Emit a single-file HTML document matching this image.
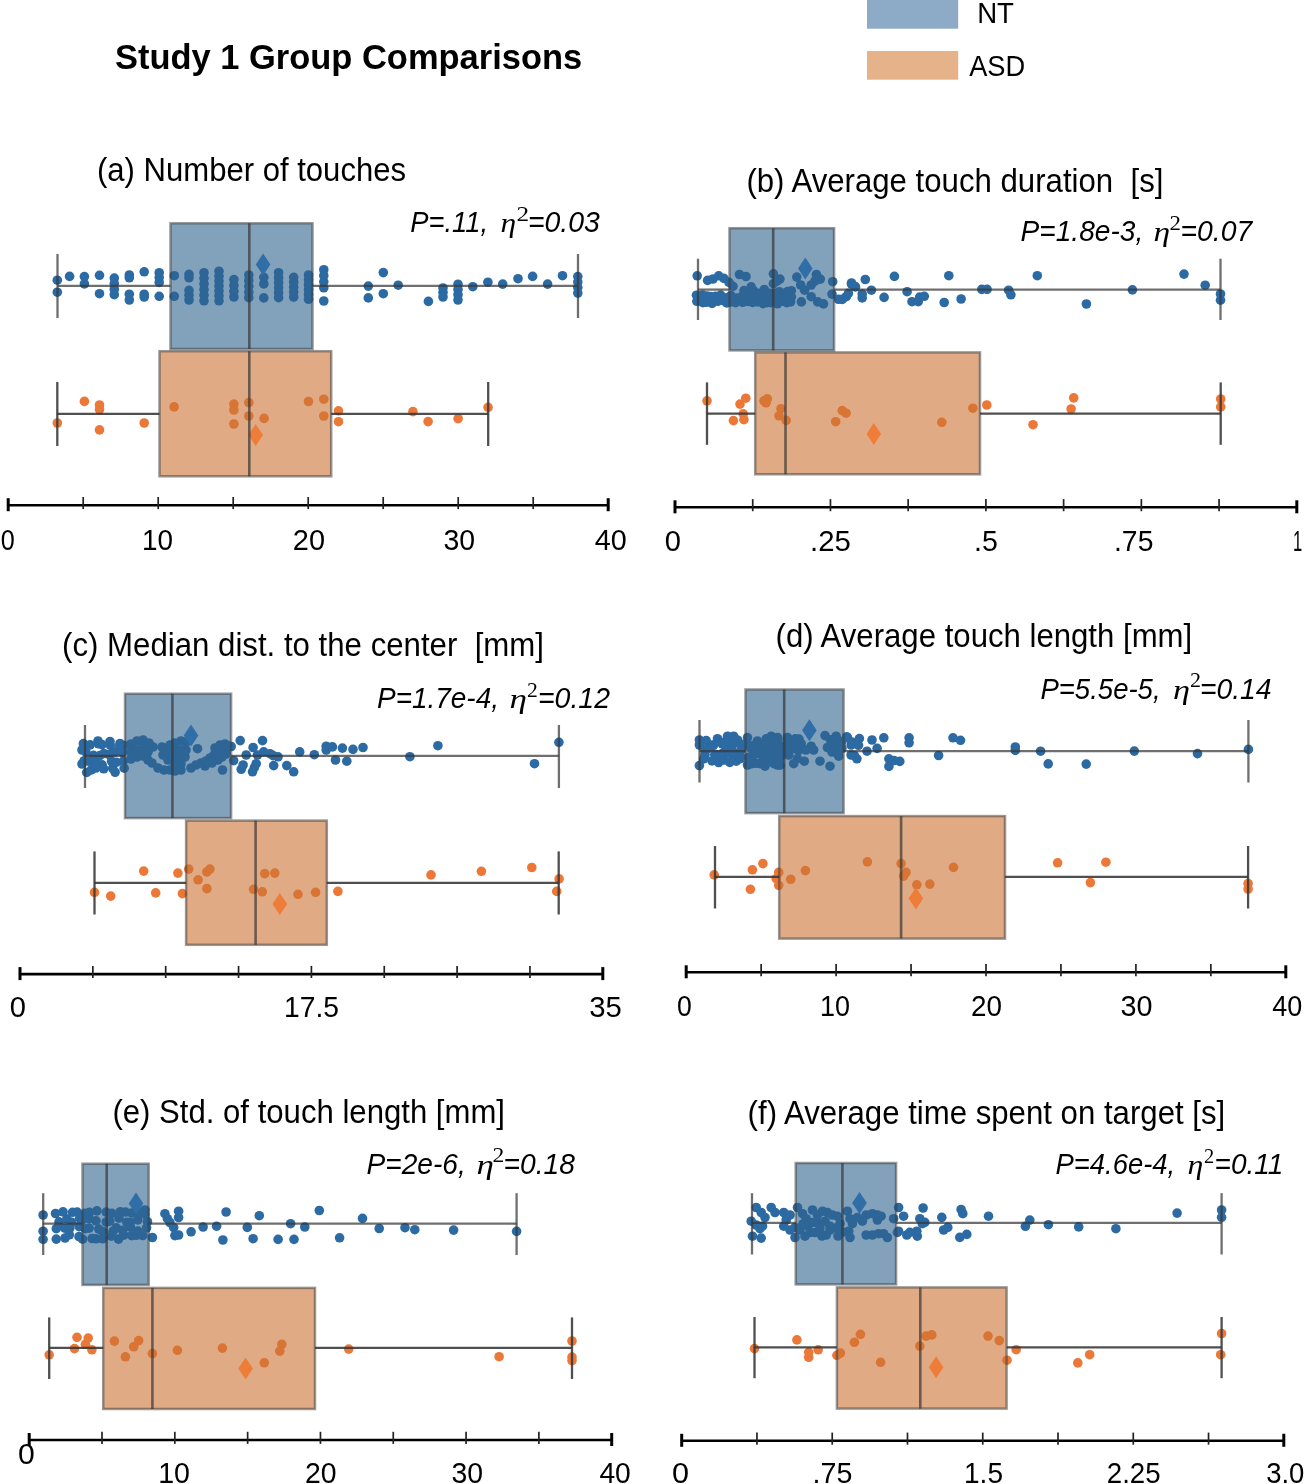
<!DOCTYPE html>
<html><head><meta charset="utf-8"><style>
html,body{margin:0;padding:0;background:#fff;}
body{width:1305px;height:1484px;overflow:hidden;}
svg{display:block;filter:blur(0.5px);}
</style></head><body>
<svg width="1305" height="1484" viewBox="0 0 1305 1484">
<rect width="1305" height="1484" fill="#fff"/>
<rect x="867" y="0" width="91.2" height="28.7" fill="rgb(141,170,198)"/>
<rect x="867" y="51" width="91.2" height="28.7" fill="rgb(229,178,138)"/>
<g fill="rgb(44,106,163)">
<circle cx="57.3" cy="280.2" r="4.8"/>
<circle cx="57.3" cy="292.2" r="4.8"/>
<circle cx="69.6" cy="276.4" r="4.8"/>
<circle cx="84.4" cy="276.6" r="4.8"/>
<circle cx="84.4" cy="283.9" r="4.8"/>
<circle cx="99.5" cy="275.3" r="4.8"/>
<circle cx="99.5" cy="293.7" r="4.8"/>
<circle cx="114.3" cy="278.1" r="4.8"/>
<circle cx="114.3" cy="283.63" r="4.8"/>
<circle cx="114.3" cy="289.17" r="4.8"/>
<circle cx="114.3" cy="294.7" r="4.8"/>
<circle cx="129.3" cy="275" r="4.8"/>
<circle cx="129.3" cy="277.8" r="4.8"/>
<circle cx="129.3" cy="294.2" r="4.8"/>
<circle cx="129.3" cy="300" r="4.8"/>
<circle cx="144.2" cy="271.8" r="4.8"/>
<circle cx="144.2" cy="294.2" r="4.8"/>
<circle cx="144.2" cy="297" r="4.8"/>
<circle cx="159.2" cy="272.7" r="4.8"/>
<circle cx="159.2" cy="277.55" r="4.8"/>
<circle cx="159.2" cy="282.4" r="4.8"/>
<circle cx="159.2" cy="296.3" r="4.8"/>
<circle cx="174.3" cy="275.7" r="4.8"/>
<circle cx="174.3" cy="296.3" r="4.8"/>
<circle cx="189" cy="274.3" r="4.8"/>
<circle cx="189" cy="277.8" r="4.8"/>
<circle cx="189" cy="290.4" r="4.8"/>
<circle cx="189" cy="295.2" r="4.8"/>
<circle cx="189" cy="300" r="4.8"/>
<circle cx="204" cy="272.7" r="4.8"/>
<circle cx="204" cy="278.32" r="4.8"/>
<circle cx="204" cy="283.94" r="4.8"/>
<circle cx="204" cy="289.56" r="4.8"/>
<circle cx="204" cy="295.18" r="4.8"/>
<circle cx="204" cy="300.8" r="4.8"/>
<circle cx="219" cy="271.2" r="4.8"/>
<circle cx="219" cy="276.13" r="4.8"/>
<circle cx="219" cy="281.07" r="4.8"/>
<circle cx="219" cy="286" r="4.8"/>
<circle cx="219" cy="290.93" r="4.8"/>
<circle cx="219" cy="295.87" r="4.8"/>
<circle cx="219" cy="300.8" r="4.8"/>
<circle cx="233.9" cy="279.6" r="4.8"/>
<circle cx="233.9" cy="285.4" r="4.8"/>
<circle cx="233.9" cy="291.2" r="4.8"/>
<circle cx="233.9" cy="297" r="4.8"/>
<circle cx="248.8" cy="275" r="4.8"/>
<circle cx="248.8" cy="280.68" r="4.8"/>
<circle cx="248.8" cy="286.35" r="4.8"/>
<circle cx="248.8" cy="292.02" r="4.8"/>
<circle cx="248.8" cy="297.7" r="4.8"/>
<circle cx="263.8" cy="277.3" r="4.8"/>
<circle cx="263.8" cy="283.9" r="4.8"/>
<circle cx="263.8" cy="297.9" r="4.8"/>
<circle cx="278.6" cy="272.7" r="4.8"/>
<circle cx="278.6" cy="277.7" r="4.8"/>
<circle cx="278.6" cy="282.7" r="4.8"/>
<circle cx="278.6" cy="287.7" r="4.8"/>
<circle cx="278.6" cy="292.7" r="4.8"/>
<circle cx="278.6" cy="297.7" r="4.8"/>
<circle cx="293.7" cy="277.3" r="4.8"/>
<circle cx="293.7" cy="282.23" r="4.8"/>
<circle cx="293.7" cy="287.15" r="4.8"/>
<circle cx="293.7" cy="292.07" r="4.8"/>
<circle cx="293.7" cy="297" r="4.8"/>
<circle cx="308.5" cy="275" r="4.8"/>
<circle cx="308.5" cy="279.86" r="4.8"/>
<circle cx="308.5" cy="284.72" r="4.8"/>
<circle cx="308.5" cy="289.58" r="4.8"/>
<circle cx="308.5" cy="294.44" r="4.8"/>
<circle cx="308.5" cy="299.3" r="4.8"/>
<circle cx="323.8" cy="269.7" r="4.8"/>
<circle cx="323.8" cy="275.73" r="4.8"/>
<circle cx="323.8" cy="281.77" r="4.8"/>
<circle cx="323.8" cy="287.8" r="4.8"/>
<circle cx="323.8" cy="301" r="4.8"/>
<circle cx="368.3" cy="286.1" r="4.8"/>
<circle cx="368.3" cy="297.9" r="4.8"/>
<circle cx="383.3" cy="272.6" r="4.8"/>
<circle cx="383.3" cy="293.7" r="4.8"/>
<circle cx="398.2" cy="285.2" r="4.8"/>
<circle cx="428.4" cy="301.4" r="4.8"/>
<circle cx="443" cy="288" r="4.8"/>
<circle cx="443" cy="292.5" r="4.8"/>
<circle cx="443" cy="297" r="4.8"/>
<circle cx="458" cy="284.2" r="4.8"/>
<circle cx="458" cy="289.47" r="4.8"/>
<circle cx="458" cy="294.73" r="4.8"/>
<circle cx="458" cy="300" r="4.8"/>
<circle cx="472.8" cy="286.7" r="4.8"/>
<circle cx="487.9" cy="282.2" r="4.8"/>
<circle cx="502.7" cy="284.1" r="4.8"/>
<circle cx="518" cy="278.7" r="4.8"/>
<circle cx="532.6" cy="276.4" r="4.8"/>
<circle cx="547.6" cy="284.1" r="4.8"/>
<circle cx="562.5" cy="275.7" r="4.8"/>
<circle cx="577.8" cy="276.6" r="4.8"/>
<circle cx="577.8" cy="282.1" r="4.8"/>
<circle cx="577.8" cy="287.6" r="4.8"/>
<circle cx="577.8" cy="293.1" r="4.8"/>
</g>
<g fill="rgb(236,120,56)">
<circle cx="57.3" cy="423" r="4.8"/>
<circle cx="84.4" cy="401.4" r="4.8"/>
<circle cx="99.5" cy="405" r="4.8"/>
<circle cx="99.5" cy="409.5" r="4.8"/>
<circle cx="99.5" cy="429.9" r="4.8"/>
<circle cx="144.2" cy="423" r="4.8"/>
<circle cx="174.1" cy="406.9" r="4.8"/>
<circle cx="233.9" cy="404.1" r="4.8"/>
<circle cx="233.9" cy="410" r="4.8"/>
<circle cx="233.9" cy="424" r="4.8"/>
<circle cx="248.8" cy="402.6" r="4.8"/>
<circle cx="248.8" cy="416" r="4.8"/>
<circle cx="264.1" cy="418.4" r="4.8"/>
<circle cx="308.5" cy="401.5" r="4.8"/>
<circle cx="323.8" cy="399.2" r="4.8"/>
<circle cx="323.8" cy="416" r="4.8"/>
<circle cx="338.5" cy="410.8" r="4.8"/>
<circle cx="338.5" cy="421.7" r="4.8"/>
<circle cx="412.9" cy="411.6" r="4.8"/>
<circle cx="428.1" cy="421.6" r="4.8"/>
<circle cx="458.1" cy="418.6" r="4.8"/>
<circle cx="488.1" cy="407.3" r="4.8"/>
</g>
<rect x="170.5" y="223.3" width="142" height="125.7" fill="rgb(47,98,142)" fill-opacity="0.6"/>
<rect x="159.5" y="351.2" width="171.7" height="125.1" fill="rgb(203,113,50)" fill-opacity="0.6"/>
<rect x="170.5" y="223.3" width="142" height="125.7" fill="none" stroke="rgb(60,60,60)" stroke-opacity="0.52" stroke-width="2.5"/>
<rect x="159.5" y="351.2" width="171.7" height="125.1" fill="none" stroke="rgb(60,60,60)" stroke-opacity="0.52" stroke-width="2.5"/>
<path d="M263.1 253.6L270.4 264.6L263.1 275.6L255.8 264.6Z" fill="rgb(48,110,168)"/>
<path d="M255.7 424L263 435L255.7 446L248.4 435Z" fill="rgb(238,125,58)"/>
<line x1="249.3" y1="223.3" x2="249.3" y2="349" stroke="rgb(55,55,55)" stroke-opacity="0.7" stroke-width="2.6"/>
<line x1="249.3" y1="351.2" x2="249.3" y2="476.3" stroke="rgb(55,55,55)" stroke-opacity="0.7" stroke-width="2.6"/>
<g stroke="rgb(55,55,55)" stroke-opacity="0.72" stroke-width="2.3">
<line x1="57.5" y1="285.8" x2="170.5" y2="285.8"/>
<line x1="312.5" y1="285.8" x2="578" y2="285.8"/>
<line x1="57.5" y1="254" x2="57.5" y2="318"/>
<line x1="578" y1="254" x2="578" y2="318"/>
</g>
<g stroke="rgb(55,55,55)" stroke-opacity="0.88" stroke-width="2.3">
<line x1="57.3" y1="413.9" x2="159.5" y2="413.9"/>
<line x1="331.2" y1="413.9" x2="488.2" y2="413.9"/>
<line x1="57.3" y1="382" x2="57.3" y2="446"/>
<line x1="488.2" y1="382" x2="488.2" y2="446"/>
</g>
<line x1="8.2" y1="505.2" x2="608.2" y2="505.2" stroke="#000" stroke-width="2.6"/>
<line x1="83.2" y1="497" x2="83.2" y2="509.1" stroke="#222" stroke-width="1.7"/>
<line x1="158.2" y1="497" x2="158.2" y2="509.1" stroke="#222" stroke-width="1.7"/>
<line x1="233.2" y1="497" x2="233.2" y2="509.1" stroke="#222" stroke-width="1.7"/>
<line x1="308.2" y1="497" x2="308.2" y2="509.1" stroke="#222" stroke-width="1.7"/>
<line x1="383.2" y1="497" x2="383.2" y2="509.1" stroke="#222" stroke-width="1.7"/>
<line x1="458.2" y1="497" x2="458.2" y2="509.1" stroke="#222" stroke-width="1.7"/>
<line x1="533.2" y1="497" x2="533.2" y2="509.1" stroke="#222" stroke-width="1.7"/>
<line x1="8.2" y1="498.2" x2="8.2" y2="511.2" stroke="#000" stroke-width="3"/>
<line x1="608.2" y1="498.2" x2="608.2" y2="511.2" stroke="#000" stroke-width="3"/>
<g fill="rgb(44,106,163)">
<circle cx="697.2" cy="275.8" r="4.8"/>
<circle cx="707.6" cy="280.4" r="4.8"/>
<circle cx="718.7" cy="275.8" r="4.8"/>
<circle cx="723.9" cy="278.4" r="4.8"/>
<circle cx="729" cy="282.4" r="4.8"/>
<circle cx="733" cy="286.3" r="4.8"/>
<circle cx="713" cy="279" r="4.8"/>
<circle cx="739.5" cy="274.5" r="4.8"/>
<circle cx="746" cy="276.5" r="4.8"/>
<circle cx="751.2" cy="286.9" r="4.8"/>
<circle cx="764.3" cy="289.5" r="4.8"/>
<circle cx="773.4" cy="273.9" r="4.8"/>
<circle cx="779.9" cy="279.1" r="4.8"/>
<circle cx="773.4" cy="283.7" r="4.8"/>
<circle cx="777" cy="281" r="4.8"/>
<circle cx="787.7" cy="291.5" r="4.8"/>
<circle cx="796.8" cy="277.1" r="4.8"/>
<circle cx="800.7" cy="285" r="4.8"/>
<circle cx="804.6" cy="290.2" r="4.8"/>
<circle cx="811.2" cy="285" r="4.8"/>
<circle cx="816.4" cy="274.5" r="4.8"/>
<circle cx="820.3" cy="279.1" r="4.8"/>
<circle cx="815" cy="281" r="4.8"/>
<circle cx="801.4" cy="301.9" r="4.8"/>
<circle cx="811.2" cy="296.7" r="4.8"/>
<circle cx="817.7" cy="301.9" r="4.8"/>
<circle cx="823.5" cy="303.9" r="4.8"/>
<circle cx="832.7" cy="281.7" r="4.8"/>
<circle cx="832" cy="294.1" r="4.8"/>
<circle cx="838.5" cy="299.3" r="4.8"/>
<circle cx="846.3" cy="296.7" r="4.8"/>
<circle cx="851.5" cy="283" r="4.8"/>
<circle cx="855.5" cy="286.9" r="4.8"/>
<circle cx="696.47" cy="295.24" r="4.8"/>
<circle cx="702.45" cy="294.96" r="4.8"/>
<circle cx="707.11" cy="296.02" r="4.8"/>
<circle cx="710.67" cy="296.53" r="4.8"/>
<circle cx="715.61" cy="296.26" r="4.8"/>
<circle cx="720.71" cy="295.03" r="4.8"/>
<circle cx="726.77" cy="297.68" r="4.8"/>
<circle cx="730.87" cy="295.5" r="4.8"/>
<circle cx="737.38" cy="298.11" r="4.8"/>
<circle cx="742.23" cy="296.13" r="4.8"/>
<circle cx="748.43" cy="294.87" r="4.8"/>
<circle cx="753.08" cy="295.74" r="4.8"/>
<circle cx="755.93" cy="295.12" r="4.8"/>
<circle cx="761.43" cy="297.64" r="4.8"/>
<circle cx="766.04" cy="296.79" r="4.8"/>
<circle cx="772.42" cy="296.04" r="4.8"/>
<circle cx="777.14" cy="294.93" r="4.8"/>
<circle cx="780.68" cy="295.44" r="4.8"/>
<circle cx="787.54" cy="296.24" r="4.8"/>
<circle cx="791.44" cy="296.81" r="4.8"/>
<circle cx="696.86" cy="301.28" r="4.8"/>
<circle cx="702.88" cy="302.72" r="4.8"/>
<circle cx="706.23" cy="302.27" r="4.8"/>
<circle cx="712.08" cy="303.35" r="4.8"/>
<circle cx="717.69" cy="301.24" r="4.8"/>
<circle cx="723.44" cy="300.63" r="4.8"/>
<circle cx="726.75" cy="302.93" r="4.8"/>
<circle cx="730.96" cy="301.96" r="4.8"/>
<circle cx="735.62" cy="302.61" r="4.8"/>
<circle cx="742.79" cy="302.26" r="4.8"/>
<circle cx="748.13" cy="301.33" r="4.8"/>
<circle cx="752.59" cy="302.34" r="4.8"/>
<circle cx="757.24" cy="301.84" r="4.8"/>
<circle cx="763.02" cy="303.6" r="4.8"/>
<circle cx="766.92" cy="302.59" r="4.8"/>
<circle cx="770.68" cy="302.73" r="4.8"/>
<circle cx="777.44" cy="303.78" r="4.8"/>
<circle cx="782.97" cy="301.22" r="4.8"/>
<circle cx="786.66" cy="302.61" r="4.8"/>
<circle cx="790.57" cy="301.86" r="4.8"/>
<circle cx="744" cy="290.62" r="4.8"/>
<circle cx="748.68" cy="292.97" r="4.8"/>
<circle cx="753.89" cy="291.09" r="4.8"/>
<circle cx="759.67" cy="293.34" r="4.8"/>
<circle cx="763.74" cy="291.82" r="4.8"/>
<circle cx="770.15" cy="293.38" r="4.8"/>
<circle cx="775.96" cy="293.31" r="4.8"/>
<circle cx="779.34" cy="291.7" r="4.8"/>
<circle cx="784.58" cy="293.38" r="4.8"/>
<circle cx="791.37" cy="290.74" r="4.8"/>
<circle cx="842.3" cy="299.4" r="4.8"/>
<circle cx="848.4" cy="293.3" r="4.8"/>
<circle cx="851.5" cy="284.1" r="4.8"/>
<circle cx="854.6" cy="286.4" r="4.8"/>
<circle cx="862.2" cy="294" r="4.8"/>
<circle cx="862.2" cy="297.9" r="4.8"/>
<circle cx="865.3" cy="279.5" r="4.8"/>
<circle cx="871.4" cy="290.2" r="4.8"/>
<circle cx="884.1" cy="297.4" r="4.8"/>
<circle cx="894.4" cy="276.4" r="4.8"/>
<circle cx="907.1" cy="291.7" r="4.8"/>
<circle cx="912" cy="301.7" r="4.8"/>
<circle cx="918.2" cy="301.7" r="4.8"/>
<circle cx="919.7" cy="297.1" r="4.8"/>
<circle cx="924.3" cy="296.3" r="4.8"/>
<circle cx="944.2" cy="302.5" r="4.8"/>
<circle cx="948.8" cy="275.7" r="4.8"/>
<circle cx="961.1" cy="299" r="4.8"/>
<circle cx="981.8" cy="289.4" r="4.8"/>
<circle cx="987.1" cy="289.4" r="4.8"/>
<circle cx="1008.6" cy="290.2" r="4.8"/>
<circle cx="1010.9" cy="294.8" r="4.8"/>
<circle cx="1037.3" cy="275.7" r="4.8"/>
<circle cx="1086.4" cy="304" r="4.8"/>
<circle cx="1132.4" cy="289.9" r="4.8"/>
<circle cx="1184" cy="274.1" r="4.8"/>
<circle cx="1205.2" cy="285.2" r="4.8"/>
<circle cx="1220.5" cy="294" r="4.8"/>
<circle cx="1220.5" cy="300.2" r="4.8"/>
</g>
<g fill="rgb(236,120,56)">
<circle cx="707" cy="400.8" r="4.8"/>
<circle cx="740" cy="404.1" r="4.8"/>
<circle cx="745.8" cy="398.2" r="4.8"/>
<circle cx="743.2" cy="413.9" r="4.8"/>
<circle cx="743.9" cy="419.7" r="4.8"/>
<circle cx="733.4" cy="420.6" r="4.8"/>
<circle cx="764" cy="400.8" r="4.8"/>
<circle cx="767.3" cy="398.9" r="4.8"/>
<circle cx="766" cy="402.8" r="4.8"/>
<circle cx="781" cy="408.7" r="4.8"/>
<circle cx="779" cy="415.8" r="4.8"/>
<circle cx="786.2" cy="420.4" r="4.8"/>
<circle cx="842.2" cy="410.6" r="4.8"/>
<circle cx="846.1" cy="413.2" r="4.8"/>
<circle cx="835.7" cy="421.7" r="4.8"/>
<circle cx="941.8" cy="422.3" r="4.8"/>
<circle cx="972.9" cy="408.2" r="4.8"/>
<circle cx="986.8" cy="405" r="4.8"/>
<circle cx="1033" cy="424.7" r="4.8"/>
<circle cx="1073.7" cy="397.9" r="4.8"/>
<circle cx="1071.1" cy="409" r="4.8"/>
<circle cx="1220.7" cy="399" r="4.8"/>
<circle cx="1220.7" cy="406.9" r="4.8"/>
</g>
<rect x="729.5" y="228.2" width="104.6" height="122.2" fill="rgb(47,98,142)" fill-opacity="0.6"/>
<rect x="755.2" y="352.4" width="224.8" height="121.9" fill="rgb(203,113,50)" fill-opacity="0.6"/>
<rect x="729.5" y="228.2" width="104.6" height="122.2" fill="none" stroke="rgb(60,60,60)" stroke-opacity="0.52" stroke-width="2.5"/>
<rect x="755.2" y="352.4" width="224.8" height="121.9" fill="none" stroke="rgb(60,60,60)" stroke-opacity="0.52" stroke-width="2.5"/>
<path d="M805.3 257.6L812.6 268.6L805.3 279.6L798 268.6Z" fill="rgb(48,110,168)"/>
<path d="M873.8 423L881.1 434L873.8 445L866.5 434Z" fill="rgb(238,125,58)"/>
<line x1="773.2" y1="228.2" x2="773.2" y2="350.4" stroke="rgb(55,55,55)" stroke-opacity="0.7" stroke-width="2.6"/>
<line x1="785.5" y1="352.4" x2="785.5" y2="474.3" stroke="rgb(55,55,55)" stroke-opacity="0.7" stroke-width="2.6"/>
<g stroke="rgb(55,55,55)" stroke-opacity="0.72" stroke-width="2.3">
<line x1="698" y1="289.6" x2="729.5" y2="289.6"/>
<line x1="834.1" y1="289.6" x2="1220.5" y2="289.6"/>
<line x1="698" y1="258.7" x2="698" y2="320"/>
<line x1="1220.5" y1="258.7" x2="1220.5" y2="320"/>
</g>
<g stroke="rgb(55,55,55)" stroke-opacity="0.88" stroke-width="2.3">
<line x1="707" y1="413.6" x2="755.2" y2="413.6"/>
<line x1="980" y1="413.6" x2="1220.7" y2="413.6"/>
<line x1="707" y1="382.4" x2="707" y2="444.8"/>
<line x1="1220.7" y1="382.4" x2="1220.7" y2="444.8"/>
</g>
<line x1="675" y1="507.3" x2="1296.8" y2="507.3" stroke="#000" stroke-width="2.6"/>
<line x1="752.73" y1="499.1" x2="752.73" y2="511.2" stroke="#222" stroke-width="1.7"/>
<line x1="830.45" y1="499.1" x2="830.45" y2="511.2" stroke="#222" stroke-width="1.7"/>
<line x1="908.17" y1="499.1" x2="908.17" y2="511.2" stroke="#222" stroke-width="1.7"/>
<line x1="985.9" y1="499.1" x2="985.9" y2="511.2" stroke="#222" stroke-width="1.7"/>
<line x1="1063.62" y1="499.1" x2="1063.62" y2="511.2" stroke="#222" stroke-width="1.7"/>
<line x1="1141.35" y1="499.1" x2="1141.35" y2="511.2" stroke="#222" stroke-width="1.7"/>
<line x1="1219.07" y1="499.1" x2="1219.07" y2="511.2" stroke="#222" stroke-width="1.7"/>
<line x1="675" y1="500.3" x2="675" y2="513.3" stroke="#000" stroke-width="3"/>
<line x1="1296.8" y1="500.3" x2="1296.8" y2="513.3" stroke="#000" stroke-width="3"/>
<g fill="rgb(44,106,163)">
<circle cx="83.38" cy="743.66" r="4.8"/>
<circle cx="90.17" cy="744.92" r="4.8"/>
<circle cx="98.45" cy="743.81" r="4.8"/>
<circle cx="102.02" cy="744.59" r="4.8"/>
<circle cx="110.35" cy="745.33" r="4.8"/>
<circle cx="119.77" cy="745.95" r="4.8"/>
<circle cx="124.08" cy="745.59" r="4.8"/>
<circle cx="85.88" cy="751.77" r="4.8"/>
<circle cx="93.5" cy="755.4" r="4.8"/>
<circle cx="99.87" cy="755.49" r="4.8"/>
<circle cx="103.96" cy="753.49" r="4.8"/>
<circle cx="109.02" cy="754.67" r="4.8"/>
<circle cx="115.31" cy="751.84" r="4.8"/>
<circle cx="122.54" cy="752.31" r="4.8"/>
<circle cx="84.2" cy="760.76" r="4.8"/>
<circle cx="89" cy="761.26" r="4.8"/>
<circle cx="96.01" cy="762.32" r="4.8"/>
<circle cx="102.13" cy="764.87" r="4.8"/>
<circle cx="111.57" cy="761.24" r="4.8"/>
<circle cx="116.26" cy="762.24" r="4.8"/>
<circle cx="123.32" cy="761.11" r="4.8"/>
<circle cx="86.74" cy="772.47" r="4.8"/>
<circle cx="91.33" cy="769.92" r="4.8"/>
<circle cx="95.93" cy="768.01" r="4.8"/>
<circle cx="103.71" cy="768.82" r="4.8"/>
<circle cx="112.64" cy="768.31" r="4.8"/>
<circle cx="115.12" cy="772.25" r="4.8"/>
<circle cx="124.14" cy="768.23" r="4.8"/>
<circle cx="98" cy="741" r="4.8"/>
<circle cx="110" cy="741.5" r="4.8"/>
<circle cx="120" cy="743.5" r="4.8"/>
<circle cx="82" cy="750" r="4.8"/>
<circle cx="82" cy="764" r="4.8"/>
<circle cx="131" cy="744" r="4.8"/>
<circle cx="137" cy="741" r="4.8"/>
<circle cx="143" cy="740" r="4.8"/>
<circle cx="149" cy="743" r="4.8"/>
<circle cx="153" cy="747" r="4.8"/>
<circle cx="131" cy="752" r="4.8"/>
<circle cx="137" cy="750" r="4.8"/>
<circle cx="143" cy="748" r="4.8"/>
<circle cx="148" cy="752" r="4.8"/>
<circle cx="131" cy="759" r="4.8"/>
<circle cx="137" cy="757" r="4.8"/>
<circle cx="143" cy="756" r="4.8"/>
<circle cx="148" cy="760" r="4.8"/>
<circle cx="152" cy="763" r="4.8"/>
<circle cx="162" cy="747" r="4.8"/>
<circle cx="166" cy="753" r="4.8"/>
<circle cx="170" cy="745" r="4.8"/>
<circle cx="158" cy="768" r="4.8"/>
<circle cx="164" cy="770" r="4.8"/>
<circle cx="170" cy="770" r="4.8"/>
<circle cx="175" cy="743" r="4.8"/>
<circle cx="181" cy="741" r="4.8"/>
<circle cx="186" cy="742" r="4.8"/>
<circle cx="174" cy="750" r="4.8"/>
<circle cx="180" cy="750" r="4.8"/>
<circle cx="186" cy="750" r="4.8"/>
<circle cx="174" cy="757" r="4.8"/>
<circle cx="180" cy="758" r="4.8"/>
<circle cx="175" cy="764" r="4.8"/>
<circle cx="181" cy="764" r="4.8"/>
<circle cx="175" cy="771" r="4.8"/>
<circle cx="181" cy="770" r="4.8"/>
<circle cx="197.5" cy="748.7" r="4.8"/>
<circle cx="163" cy="755" r="4.8"/>
<circle cx="168" cy="760" r="4.8"/>
<circle cx="185" cy="757" r="4.8"/>
<circle cx="191" cy="768" r="4.8"/>
<circle cx="196" cy="765" r="4.8"/>
<circle cx="201" cy="763" r="4.8"/>
<circle cx="206" cy="761" r="4.8"/>
<circle cx="210" cy="758" r="4.8"/>
<circle cx="214" cy="755" r="4.8"/>
<circle cx="218" cy="753" r="4.8"/>
<circle cx="222" cy="750" r="4.8"/>
<circle cx="226" cy="748" r="4.8"/>
<circle cx="229" cy="746" r="4.8"/>
<circle cx="205" cy="766" r="4.8"/>
<circle cx="212" cy="763" r="4.8"/>
<circle cx="218" cy="760" r="4.8"/>
<circle cx="222" cy="757" r="4.8"/>
<circle cx="226" cy="754" r="4.8"/>
<circle cx="215" cy="748" r="4.8"/>
<circle cx="220" cy="745" r="4.8"/>
<circle cx="225" cy="744" r="4.8"/>
<circle cx="222.5" cy="770" r="4.8"/>
<circle cx="231.2" cy="746.5" r="4.8"/>
<circle cx="233.7" cy="760.6" r="4.8"/>
<circle cx="240.2" cy="740.6" r="4.8"/>
<circle cx="241.2" cy="769.3" r="4.8"/>
<circle cx="243.1" cy="765" r="4.8"/>
<circle cx="246.2" cy="755" r="4.8"/>
<circle cx="253.1" cy="747.5" r="4.8"/>
<circle cx="252.5" cy="771.8" r="4.8"/>
<circle cx="254.4" cy="767.5" r="4.8"/>
<circle cx="256.2" cy="763.7" r="4.8"/>
<circle cx="262.5" cy="740.6" r="4.8"/>
<circle cx="257.5" cy="755" r="4.8"/>
<circle cx="263.7" cy="751.9" r="4.8"/>
<circle cx="270" cy="753.7" r="4.8"/>
<circle cx="273.1" cy="755.6" r="4.8"/>
<circle cx="278.1" cy="756.8" r="4.8"/>
<circle cx="273.7" cy="765.6" r="4.8"/>
<circle cx="286.8" cy="765.6" r="4.8"/>
<circle cx="293.7" cy="771.8" r="4.8"/>
<circle cx="299.7" cy="751.9" r="4.8"/>
<circle cx="314.3" cy="754.7" r="4.8"/>
<circle cx="326.2" cy="746.2" r="4.8"/>
<circle cx="326.2" cy="750" r="4.8"/>
<circle cx="332.4" cy="746.9" r="4.8"/>
<circle cx="342.4" cy="748.1" r="4.8"/>
<circle cx="335.5" cy="760" r="4.8"/>
<circle cx="346.8" cy="761.2" r="4.8"/>
<circle cx="353" cy="749.4" r="4.8"/>
<circle cx="363" cy="747.5" r="4.8"/>
<circle cx="409.9" cy="756.7" r="4.8"/>
<circle cx="437.9" cy="745.7" r="4.8"/>
<circle cx="534.5" cy="763.7" r="4.8"/>
<circle cx="558.9" cy="742.3" r="4.8"/>
</g>
<g fill="rgb(236,120,56)">
<circle cx="94.5" cy="892.4" r="4.8"/>
<circle cx="110.7" cy="896.1" r="4.8"/>
<circle cx="143.7" cy="871.1" r="4.8"/>
<circle cx="155.7" cy="892.9" r="4.8"/>
<circle cx="177.9" cy="873.1" r="4.8"/>
<circle cx="182.4" cy="893.6" r="4.8"/>
<circle cx="188.7" cy="869.1" r="4.8"/>
<circle cx="198.1" cy="879.8" r="4.8"/>
<circle cx="206.9" cy="871.9" r="4.8"/>
<circle cx="209.9" cy="869.1" r="4.8"/>
<circle cx="206.9" cy="888.6" r="4.8"/>
<circle cx="253.6" cy="889.3" r="4.8"/>
<circle cx="262.3" cy="891.8" r="4.8"/>
<circle cx="264.8" cy="873.6" r="4.8"/>
<circle cx="274.8" cy="873.1" r="4.8"/>
<circle cx="298" cy="894.3" r="4.8"/>
<circle cx="315.6" cy="892.3" r="4.8"/>
<circle cx="337.9" cy="891.4" r="4.8"/>
<circle cx="431" cy="874.9" r="4.8"/>
<circle cx="481.4" cy="871.3" r="4.8"/>
<circle cx="531.8" cy="867.5" r="4.8"/>
<circle cx="559.1" cy="878.9" r="4.8"/>
<circle cx="556.7" cy="891.4" r="4.8"/>
</g>
<rect x="125" y="693.7" width="106.1" height="124.4" fill="rgb(47,98,142)" fill-opacity="0.6"/>
<rect x="186.1" y="820.6" width="140.7" height="124.2" fill="rgb(203,113,50)" fill-opacity="0.6"/>
<rect x="125" y="693.7" width="106.1" height="124.4" fill="none" stroke="rgb(60,60,60)" stroke-opacity="0.52" stroke-width="2.5"/>
<rect x="186.1" y="820.6" width="140.7" height="124.2" fill="none" stroke="rgb(60,60,60)" stroke-opacity="0.52" stroke-width="2.5"/>
<path d="M191 724.5L198.3 735.5L191 746.5L183.7 735.5Z" fill="rgb(48,110,168)"/>
<path d="M279.8 893.1L287.1 904.1L279.8 915.1L272.5 904.1Z" fill="rgb(238,125,58)"/>
<line x1="172.4" y1="693.7" x2="172.4" y2="818.1" stroke="rgb(55,55,55)" stroke-opacity="0.7" stroke-width="2.6"/>
<line x1="255.6" y1="820.6" x2="255.6" y2="944.8" stroke="rgb(55,55,55)" stroke-opacity="0.7" stroke-width="2.6"/>
<g stroke="rgb(55,55,55)" stroke-opacity="0.72" stroke-width="2.3">
<line x1="85" y1="755.9" x2="125" y2="755.9"/>
<line x1="231.1" y1="755.9" x2="558.9" y2="755.9"/>
<line x1="85" y1="725" x2="85" y2="788"/>
<line x1="558.9" y1="725" x2="558.9" y2="788"/>
</g>
<g stroke="rgb(55,55,55)" stroke-opacity="0.88" stroke-width="2.3">
<line x1="94.5" y1="882.8" x2="186.1" y2="882.8"/>
<line x1="326.8" y1="882.8" x2="558.7" y2="882.8"/>
<line x1="94.5" y1="851.4" x2="94.5" y2="914.5"/>
<line x1="558.7" y1="851.4" x2="558.7" y2="914.5"/>
</g>
<line x1="20" y1="974.1" x2="602.8" y2="974.1" stroke="#000" stroke-width="2.6"/>
<line x1="92.85" y1="965.9" x2="92.85" y2="978" stroke="#222" stroke-width="1.7"/>
<line x1="165.7" y1="965.9" x2="165.7" y2="978" stroke="#222" stroke-width="1.7"/>
<line x1="238.55" y1="965.9" x2="238.55" y2="978" stroke="#222" stroke-width="1.7"/>
<line x1="311.4" y1="965.9" x2="311.4" y2="978" stroke="#222" stroke-width="1.7"/>
<line x1="384.25" y1="965.9" x2="384.25" y2="978" stroke="#222" stroke-width="1.7"/>
<line x1="457.1" y1="965.9" x2="457.1" y2="978" stroke="#222" stroke-width="1.7"/>
<line x1="529.95" y1="965.9" x2="529.95" y2="978" stroke="#222" stroke-width="1.7"/>
<line x1="20" y1="967.1" x2="20" y2="980.1" stroke="#000" stroke-width="3"/>
<line x1="602.8" y1="967.1" x2="602.8" y2="980.1" stroke="#000" stroke-width="3"/>
<g fill="rgb(44,106,163)">
<circle cx="699.4" cy="740" r="4.8"/>
<circle cx="699.4" cy="745" r="4.8"/>
<circle cx="699.4" cy="765.6" r="4.8"/>
<circle cx="707.5" cy="748.7" r="4.8"/>
<circle cx="705" cy="755" r="4.8"/>
<circle cx="717.5" cy="738.7" r="4.8"/>
<circle cx="722.5" cy="742.5" r="4.8"/>
<circle cx="727.5" cy="736.2" r="4.8"/>
<circle cx="733.7" cy="736.2" r="4.8"/>
<circle cx="737.5" cy="740" r="4.8"/>
<circle cx="731.2" cy="745" r="4.8"/>
<circle cx="717.5" cy="755" r="4.8"/>
<circle cx="718.7" cy="762.5" r="4.8"/>
<circle cx="723.7" cy="760" r="4.8"/>
<circle cx="731.2" cy="753.7" r="4.8"/>
<circle cx="736.2" cy="761.2" r="4.8"/>
<circle cx="740" cy="755" r="4.8"/>
<circle cx="712.5" cy="745" r="4.8"/>
<circle cx="742" cy="746" r="4.8"/>
<circle cx="726" cy="750" r="4.8"/>
<circle cx="748.7" cy="745" r="4.8"/>
<circle cx="747.5" cy="765" r="4.8"/>
<circle cx="752.5" cy="756.2" r="4.8"/>
<circle cx="760" cy="752.5" r="4.8"/>
<circle cx="760" cy="763.7" r="4.8"/>
<circle cx="765" cy="766.2" r="4.8"/>
<circle cx="767.5" cy="742.5" r="4.8"/>
<circle cx="771.2" cy="736.2" r="4.8"/>
<circle cx="777.5" cy="737.5" r="4.8"/>
<circle cx="770" cy="757.5" r="4.8"/>
<circle cx="776.2" cy="751.2" r="4.8"/>
<circle cx="777.5" cy="765" r="4.8"/>
<circle cx="780" cy="757.5" r="4.8"/>
<circle cx="777.4" cy="745" r="4.8"/>
<circle cx="755" cy="745" r="4.8"/>
<circle cx="762" cy="745" r="4.8"/>
<circle cx="768" cy="750" r="4.8"/>
<circle cx="753" cy="763" r="4.8"/>
<circle cx="772" cy="762" r="4.8"/>
<circle cx="782" cy="750" r="4.8"/>
<circle cx="787.4" cy="737.5" r="4.8"/>
<circle cx="790" cy="745" r="4.8"/>
<circle cx="788.7" cy="755" r="4.8"/>
<circle cx="796.2" cy="745" r="4.8"/>
<circle cx="801.2" cy="743.7" r="4.8"/>
<circle cx="793.7" cy="763.7" r="4.8"/>
<circle cx="797.4" cy="758.7" r="4.8"/>
<circle cx="804.3" cy="761.2" r="4.8"/>
<circle cx="811.2" cy="746.2" r="4.8"/>
<circle cx="813.7" cy="750" r="4.8"/>
<circle cx="820" cy="761.2" r="4.8"/>
<circle cx="830" cy="766.2" r="4.8"/>
<circle cx="825" cy="735.6" r="4.8"/>
<circle cx="827.4" cy="747.5" r="4.8"/>
<circle cx="836.1" cy="736.2" r="4.8"/>
<circle cx="837.4" cy="747.5" r="4.8"/>
<circle cx="838.7" cy="756.2" r="4.8"/>
<circle cx="835" cy="742.5" r="4.8"/>
<circle cx="847.4" cy="737.5" r="4.8"/>
<circle cx="851.1" cy="745" r="4.8"/>
<circle cx="851.1" cy="755" r="4.8"/>
<circle cx="806" cy="750" r="4.8"/>
<circle cx="832" cy="752" r="4.8"/>
<circle cx="846.7" cy="736.9" r="4.8"/>
<circle cx="841.7" cy="748.7" r="4.8"/>
<circle cx="851.8" cy="742" r="4.8"/>
<circle cx="859.4" cy="738.6" r="4.8"/>
<circle cx="858.5" cy="745.3" r="4.8"/>
<circle cx="854.3" cy="755.5" r="4.8"/>
<circle cx="856.9" cy="758.8" r="4.8"/>
<circle cx="867" cy="751.2" r="4.8"/>
<circle cx="872" cy="740" r="4.8"/>
<circle cx="877.1" cy="748.4" r="4.8"/>
<circle cx="883.8" cy="737.8" r="4.8"/>
<circle cx="888.9" cy="758.8" r="4.8"/>
<circle cx="888.9" cy="766.4" r="4.8"/>
<circle cx="894" cy="760.5" r="4.8"/>
<circle cx="899.8" cy="761.4" r="4.8"/>
<circle cx="909.1" cy="737.8" r="4.8"/>
<circle cx="909.1" cy="742.8" r="4.8"/>
<circle cx="938.6" cy="755.5" r="4.8"/>
<circle cx="953" cy="737.8" r="4.8"/>
<circle cx="960.5" cy="740.3" r="4.8"/>
<circle cx="1015.3" cy="747" r="4.8"/>
<circle cx="1015.3" cy="750.4" r="4.8"/>
<circle cx="1040.6" cy="751.2" r="4.8"/>
<circle cx="1048.2" cy="763.9" r="4.8"/>
<circle cx="1086.2" cy="764.1" r="4.8"/>
<circle cx="1134.3" cy="751.1" r="4.8"/>
<circle cx="1197.5" cy="753.6" r="4.8"/>
<circle cx="1248.4" cy="749.4" r="4.8"/>
<circle cx="706.22" cy="740.64" r="4.8"/>
<circle cx="713.34" cy="745.39" r="4.8"/>
<circle cx="722.22" cy="743.98" r="4.8"/>
<circle cx="726.41" cy="742.33" r="4.8"/>
<circle cx="733.14" cy="744.36" r="4.8"/>
<circle cx="742.16" cy="744.4" r="4.8"/>
<circle cx="705.15" cy="750.62" r="4.8"/>
<circle cx="714.76" cy="754.42" r="4.8"/>
<circle cx="722.16" cy="753.53" r="4.8"/>
<circle cx="729.19" cy="753.2" r="4.8"/>
<circle cx="733.43" cy="752.09" r="4.8"/>
<circle cx="741.28" cy="749.64" r="4.8"/>
<circle cx="703.64" cy="758.9" r="4.8"/>
<circle cx="712" cy="760.96" r="4.8"/>
<circle cx="722.68" cy="759.74" r="4.8"/>
<circle cx="729.79" cy="762.44" r="4.8"/>
<circle cx="737.08" cy="759.32" r="4.8"/>
<circle cx="740.6" cy="758.63" r="4.8"/>
<circle cx="747.48" cy="737.52" r="4.8"/>
<circle cx="757.37" cy="741" r="4.8"/>
<circle cx="766.2" cy="738.9" r="4.8"/>
<circle cx="773.01" cy="740.5" r="4.8"/>
<circle cx="777.92" cy="739.8" r="4.8"/>
<circle cx="751.05" cy="748.41" r="4.8"/>
<circle cx="758" cy="746.89" r="4.8"/>
<circle cx="762.89" cy="748.45" r="4.8"/>
<circle cx="771.41" cy="748.5" r="4.8"/>
<circle cx="782.36" cy="746.48" r="4.8"/>
<circle cx="748.51" cy="757.23" r="4.8"/>
<circle cx="757.87" cy="753.35" r="4.8"/>
<circle cx="762.64" cy="753.26" r="4.8"/>
<circle cx="774.27" cy="756.53" r="4.8"/>
<circle cx="778.23" cy="756.63" r="4.8"/>
<circle cx="751.4" cy="763.79" r="4.8"/>
<circle cx="756" cy="763.24" r="4.8"/>
<circle cx="762.65" cy="760.57" r="4.8"/>
<circle cx="774.6" cy="763.75" r="4.8"/>
<circle cx="780.13" cy="765.17" r="4.8"/>
<circle cx="787.74" cy="741.49" r="4.8"/>
<circle cx="795.3" cy="738.84" r="4.8"/>
<circle cx="799.01" cy="739.17" r="4.8"/>
<circle cx="786.96" cy="749.35" r="4.8"/>
<circle cx="793.04" cy="748.68" r="4.8"/>
<circle cx="798.52" cy="750.64" r="4.8"/>
<circle cx="830.42" cy="739.83" r="4.8"/>
<circle cx="836.83" cy="741.62" r="4.8"/>
<circle cx="841.68" cy="741.67" r="4.8"/>
<circle cx="831.01" cy="749.13" r="4.8"/>
<circle cx="836.59" cy="747.07" r="4.8"/>
<circle cx="841.76" cy="747.73" r="4.8"/>
</g>
<g fill="rgb(236,120,56)">
<circle cx="714.2" cy="874.8" r="4.8"/>
<circle cx="752.4" cy="869.8" r="4.8"/>
<circle cx="762.9" cy="863.6" r="4.8"/>
<circle cx="750.4" cy="889.3" r="4.8"/>
<circle cx="778.7" cy="872.3" r="4.8"/>
<circle cx="776.2" cy="878.6" r="4.8"/>
<circle cx="778.7" cy="885.3" r="4.8"/>
<circle cx="790.7" cy="879.3" r="4.8"/>
<circle cx="805.4" cy="870.6" r="4.8"/>
<circle cx="867.4" cy="861.9" r="4.8"/>
<circle cx="901.1" cy="863.6" r="4.8"/>
<circle cx="906.1" cy="872.3" r="4.8"/>
<circle cx="903.6" cy="876.1" r="4.8"/>
<circle cx="916.8" cy="884.8" r="4.8"/>
<circle cx="929.8" cy="884.1" r="4.8"/>
<circle cx="953.5" cy="867.4" r="4.8"/>
<circle cx="1057.6" cy="862.8" r="4.8"/>
<circle cx="1105.9" cy="862.2" r="4.8"/>
<circle cx="1090.4" cy="882.6" r="4.8"/>
<circle cx="1248.1" cy="883.6" r="4.8"/>
<circle cx="1248.1" cy="889" r="4.8"/>
</g>
<rect x="745.5" y="689.5" width="98.1" height="123.6" fill="rgb(47,98,142)" fill-opacity="0.6"/>
<rect x="779.2" y="816.1" width="225.8" height="122.5" fill="rgb(203,113,50)" fill-opacity="0.6"/>
<rect x="745.5" y="689.5" width="98.1" height="123.6" fill="none" stroke="rgb(60,60,60)" stroke-opacity="0.52" stroke-width="2.5"/>
<rect x="779.2" y="816.1" width="225.8" height="122.5" fill="none" stroke="rgb(60,60,60)" stroke-opacity="0.52" stroke-width="2.5"/>
<path d="M809.4 719.3L816.7 730.3L809.4 741.3L802.1 730.3Z" fill="rgb(48,110,168)"/>
<path d="M915.9 887.4L923.2 898.4L915.9 909.4L908.6 898.4Z" fill="rgb(238,125,58)"/>
<line x1="784.2" y1="689.5" x2="784.2" y2="813.1" stroke="rgb(55,55,55)" stroke-opacity="0.7" stroke-width="2.6"/>
<line x1="901.1" y1="816.1" x2="901.1" y2="938.6" stroke="rgb(55,55,55)" stroke-opacity="0.7" stroke-width="2.6"/>
<g stroke="rgb(55,55,55)" stroke-opacity="0.72" stroke-width="2.3">
<line x1="699.5" y1="751.1" x2="745.5" y2="751.1"/>
<line x1="843.6" y1="751.1" x2="1248.4" y2="751.1"/>
<line x1="699.5" y1="720" x2="699.5" y2="782.5"/>
<line x1="1248.4" y1="720" x2="1248.4" y2="782.5"/>
</g>
<g stroke="rgb(55,55,55)" stroke-opacity="0.88" stroke-width="2.3">
<line x1="715" y1="876.8" x2="779.2" y2="876.8"/>
<line x1="1005" y1="876.8" x2="1248.1" y2="876.8"/>
<line x1="715" y1="846" x2="715" y2="908.5"/>
<line x1="1248.1" y1="846" x2="1248.1" y2="908.5"/>
</g>
<line x1="686.2" y1="972.3" x2="1285.8" y2="972.3" stroke="#000" stroke-width="2.6"/>
<line x1="761.15" y1="964.1" x2="761.15" y2="976.2" stroke="#222" stroke-width="1.7"/>
<line x1="836.1" y1="964.1" x2="836.1" y2="976.2" stroke="#222" stroke-width="1.7"/>
<line x1="911.05" y1="964.1" x2="911.05" y2="976.2" stroke="#222" stroke-width="1.7"/>
<line x1="986" y1="964.1" x2="986" y2="976.2" stroke="#222" stroke-width="1.7"/>
<line x1="1060.95" y1="964.1" x2="1060.95" y2="976.2" stroke="#222" stroke-width="1.7"/>
<line x1="1135.9" y1="964.1" x2="1135.9" y2="976.2" stroke="#222" stroke-width="1.7"/>
<line x1="1210.85" y1="964.1" x2="1210.85" y2="976.2" stroke="#222" stroke-width="1.7"/>
<line x1="686.2" y1="965.3" x2="686.2" y2="978.3" stroke="#000" stroke-width="3"/>
<line x1="1285.8" y1="965.3" x2="1285.8" y2="978.3" stroke="#000" stroke-width="3"/>
<g fill="rgb(44,106,163)">
<circle cx="43.1" cy="1215" r="4.8"/>
<circle cx="43.1" cy="1231.2" r="4.8"/>
<circle cx="43.1" cy="1239.3" r="4.8"/>
<circle cx="55.52" cy="1213.5" r="4.8"/>
<circle cx="63.05" cy="1211.87" r="4.8"/>
<circle cx="72.51" cy="1212.28" r="4.8"/>
<circle cx="77.21" cy="1212.09" r="4.8"/>
<circle cx="85.05" cy="1213.42" r="4.8"/>
<circle cx="89.49" cy="1212.3" r="4.8"/>
<circle cx="96.9" cy="1210.88" r="4.8"/>
<circle cx="106.21" cy="1212.04" r="4.8"/>
<circle cx="111.85" cy="1213.3" r="4.8"/>
<circle cx="120.29" cy="1211.72" r="4.8"/>
<circle cx="125.49" cy="1212.03" r="4.8"/>
<circle cx="131.68" cy="1212.96" r="4.8"/>
<circle cx="138.07" cy="1212.17" r="4.8"/>
<circle cx="144.89" cy="1214.21" r="4.8"/>
<circle cx="59" cy="1221.88" r="4.8"/>
<circle cx="66.9" cy="1218.8" r="4.8"/>
<circle cx="71.68" cy="1222.22" r="4.8"/>
<circle cx="79.78" cy="1218.19" r="4.8"/>
<circle cx="82.88" cy="1219.71" r="4.8"/>
<circle cx="89.32" cy="1218.7" r="4.8"/>
<circle cx="96.02" cy="1220.85" r="4.8"/>
<circle cx="106.27" cy="1221.99" r="4.8"/>
<circle cx="109.81" cy="1221.08" r="4.8"/>
<circle cx="119.03" cy="1218.21" r="4.8"/>
<circle cx="126.84" cy="1222.34" r="4.8"/>
<circle cx="130.21" cy="1222.26" r="4.8"/>
<circle cx="137.8" cy="1219.94" r="4.8"/>
<circle cx="147.45" cy="1221.66" r="4.8"/>
<circle cx="56.31" cy="1228.66" r="4.8"/>
<circle cx="64.77" cy="1228.2" r="4.8"/>
<circle cx="69.86" cy="1228.09" r="4.8"/>
<circle cx="79.19" cy="1226.6" r="4.8"/>
<circle cx="85.04" cy="1228.7" r="4.8"/>
<circle cx="89.05" cy="1228.16" r="4.8"/>
<circle cx="98.77" cy="1229.06" r="4.8"/>
<circle cx="102.67" cy="1231.43" r="4.8"/>
<circle cx="112.98" cy="1231.36" r="4.8"/>
<circle cx="116.25" cy="1227.83" r="4.8"/>
<circle cx="122.62" cy="1230.39" r="4.8"/>
<circle cx="130.47" cy="1227.15" r="4.8"/>
<circle cx="137.92" cy="1231.06" r="4.8"/>
<circle cx="146.59" cy="1227.79" r="4.8"/>
<circle cx="56.25" cy="1239.1" r="4.8"/>
<circle cx="65.05" cy="1238" r="4.8"/>
<circle cx="69.33" cy="1234.79" r="4.8"/>
<circle cx="79.02" cy="1236.63" r="4.8"/>
<circle cx="82.63" cy="1239.19" r="4.8"/>
<circle cx="92.13" cy="1238.51" r="4.8"/>
<circle cx="96.07" cy="1238.78" r="4.8"/>
<circle cx="102.68" cy="1238.81" r="4.8"/>
<circle cx="111.31" cy="1236.2" r="4.8"/>
<circle cx="118.5" cy="1239.13" r="4.8"/>
<circle cx="123.76" cy="1235.15" r="4.8"/>
<circle cx="131.75" cy="1235.69" r="4.8"/>
<circle cx="136.35" cy="1235.31" r="4.8"/>
<circle cx="142.75" cy="1235.51" r="4.8"/>
<circle cx="144.9" cy="1210" r="4.8"/>
<circle cx="152.4" cy="1237.5" r="4.8"/>
<circle cx="164.9" cy="1213.7" r="4.8"/>
<circle cx="167.4" cy="1218.7" r="4.8"/>
<circle cx="169.9" cy="1222.5" r="4.8"/>
<circle cx="178.6" cy="1211.2" r="4.8"/>
<circle cx="178.6" cy="1217.5" r="4.8"/>
<circle cx="173.7" cy="1227.5" r="4.8"/>
<circle cx="174.9" cy="1235.6" r="4.8"/>
<circle cx="178.6" cy="1235" r="4.8"/>
<circle cx="191.1" cy="1231.8" r="4.8"/>
<circle cx="203.1" cy="1227" r="4.8"/>
<circle cx="216.6" cy="1226.2" r="4.8"/>
<circle cx="226.1" cy="1212" r="4.8"/>
<circle cx="222.9" cy="1240" r="4.8"/>
<circle cx="247.3" cy="1227.4" r="4.8"/>
<circle cx="259.3" cy="1215.7" r="4.8"/>
<circle cx="253.1" cy="1238.7" r="4.8"/>
<circle cx="278.1" cy="1239.4" r="4.8"/>
<circle cx="290.6" cy="1223.7" r="4.8"/>
<circle cx="294" cy="1239.4" r="4.8"/>
<circle cx="304.8" cy="1227" r="4.8"/>
<circle cx="319.3" cy="1210.5" r="4.8"/>
<circle cx="339.6" cy="1237.8" r="4.8"/>
<circle cx="362.5" cy="1218.4" r="4.8"/>
<circle cx="379.2" cy="1228.5" r="4.8"/>
<circle cx="405" cy="1227.7" r="4.8"/>
<circle cx="414.8" cy="1229.7" r="4.8"/>
<circle cx="453.6" cy="1230.1" r="4.8"/>
<circle cx="516.6" cy="1231.4" r="4.8"/>
</g>
<g fill="rgb(236,120,56)">
<circle cx="49.2" cy="1354.8" r="4.8"/>
<circle cx="77" cy="1337.3" r="4.8"/>
<circle cx="88.2" cy="1338.1" r="4.8"/>
<circle cx="74.5" cy="1348.6" r="4.8"/>
<circle cx="85.4" cy="1344.3" r="4.8"/>
<circle cx="91.9" cy="1349.8" r="4.8"/>
<circle cx="114.4" cy="1341.1" r="4.8"/>
<circle cx="125.4" cy="1356.8" r="4.8"/>
<circle cx="133.7" cy="1346.8" r="4.8"/>
<circle cx="138.7" cy="1340.6" r="4.8"/>
<circle cx="152.4" cy="1353.6" r="4.8"/>
<circle cx="177.4" cy="1350.3" r="4.8"/>
<circle cx="222.4" cy="1348.1" r="4.8"/>
<circle cx="264.3" cy="1362.8" r="4.8"/>
<circle cx="281.8" cy="1344.3" r="4.8"/>
<circle cx="279.8" cy="1351.1" r="4.8"/>
<circle cx="348.7" cy="1349.1" r="4.8"/>
<circle cx="499.1" cy="1356.7" r="4.8"/>
<circle cx="572" cy="1341" r="4.8"/>
<circle cx="572" cy="1357.1" r="4.8"/>
<circle cx="572" cy="1360.6" r="4.8"/>
</g>
<rect x="82.5" y="1163.7" width="66.2" height="121.2" fill="rgb(47,98,142)" fill-opacity="0.6"/>
<rect x="103.2" y="1287.9" width="211.8" height="121.1" fill="rgb(203,113,50)" fill-opacity="0.6"/>
<rect x="82.5" y="1163.7" width="66.2" height="121.2" fill="none" stroke="rgb(60,60,60)" stroke-opacity="0.52" stroke-width="2.5"/>
<rect x="103.2" y="1287.9" width="211.8" height="121.1" fill="none" stroke="rgb(60,60,60)" stroke-opacity="0.52" stroke-width="2.5"/>
<path d="M136 1192.5L143.3 1203.5L136 1214.5L128.7 1203.5Z" fill="rgb(48,110,168)"/>
<path d="M245.6 1357.6L252.9 1368.6L245.6 1379.6L238.3 1368.6Z" fill="rgb(238,125,58)"/>
<line x1="106.7" y1="1163.7" x2="106.7" y2="1284.9" stroke="rgb(55,55,55)" stroke-opacity="0.7" stroke-width="2.6"/>
<line x1="152.4" y1="1287.9" x2="152.4" y2="1409" stroke="rgb(55,55,55)" stroke-opacity="0.7" stroke-width="2.6"/>
<g stroke="rgb(55,55,55)" stroke-opacity="0.72" stroke-width="2.3">
<line x1="43.2" y1="1223.7" x2="82.5" y2="1223.7"/>
<line x1="148.7" y1="1223.7" x2="516.6" y2="1223.7"/>
<line x1="43.2" y1="1193.2" x2="43.2" y2="1255"/>
<line x1="516.6" y1="1193.2" x2="516.6" y2="1255"/>
</g>
<g stroke="rgb(55,55,55)" stroke-opacity="0.88" stroke-width="2.3">
<line x1="49.2" y1="1347.9" x2="103.2" y2="1347.9"/>
<line x1="315" y1="1347.9" x2="572" y2="1347.9"/>
<line x1="49.2" y1="1317.4" x2="49.2" y2="1379"/>
<line x1="572" y1="1317.4" x2="572" y2="1379"/>
</g>
<line x1="29.2" y1="1440" x2="611.7" y2="1440" stroke="#000" stroke-width="2.6"/>
<line x1="102.01" y1="1431.8" x2="102.01" y2="1443.9" stroke="#222" stroke-width="1.7"/>
<line x1="174.82" y1="1431.8" x2="174.82" y2="1443.9" stroke="#222" stroke-width="1.7"/>
<line x1="247.64" y1="1431.8" x2="247.64" y2="1443.9" stroke="#222" stroke-width="1.7"/>
<line x1="320.45" y1="1431.8" x2="320.45" y2="1443.9" stroke="#222" stroke-width="1.7"/>
<line x1="393.26" y1="1431.8" x2="393.26" y2="1443.9" stroke="#222" stroke-width="1.7"/>
<line x1="466.07" y1="1431.8" x2="466.07" y2="1443.9" stroke="#222" stroke-width="1.7"/>
<line x1="538.89" y1="1431.8" x2="538.89" y2="1443.9" stroke="#222" stroke-width="1.7"/>
<line x1="29.2" y1="1433" x2="29.2" y2="1446" stroke="#000" stroke-width="3"/>
<line x1="611.7" y1="1433" x2="611.7" y2="1446" stroke="#000" stroke-width="3"/>
<g fill="rgb(44,106,163)">
<circle cx="751.2" cy="1221.2" r="4.8"/>
<circle cx="752.5" cy="1236.2" r="4.8"/>
<circle cx="761.2" cy="1238.1" r="4.8"/>
<circle cx="756.2" cy="1207.5" r="4.8"/>
<circle cx="761.2" cy="1212.5" r="4.8"/>
<circle cx="765" cy="1217.5" r="4.8"/>
<circle cx="771.2" cy="1207.5" r="4.8"/>
<circle cx="775" cy="1212.5" r="4.8"/>
<circle cx="756.2" cy="1225" r="4.8"/>
<circle cx="760" cy="1228.7" r="4.8"/>
<circle cx="762.5" cy="1226.2" r="4.8"/>
<circle cx="783.7" cy="1212.5" r="4.8"/>
<circle cx="790" cy="1215" r="4.8"/>
<circle cx="786.2" cy="1220" r="4.8"/>
<circle cx="783.7" cy="1226.2" r="4.8"/>
<circle cx="790" cy="1230" r="4.8"/>
<circle cx="795" cy="1227.5" r="4.8"/>
<circle cx="795" cy="1237.5" r="4.8"/>
<circle cx="797.5" cy="1207.5" r="4.8"/>
<circle cx="802.5" cy="1213.7" r="4.8"/>
<circle cx="806.2" cy="1218.7" r="4.8"/>
<circle cx="800" cy="1230" r="4.8"/>
<circle cx="805" cy="1236.2" r="4.8"/>
<circle cx="810" cy="1232.5" r="4.8"/>
<circle cx="812.5" cy="1210" r="4.8"/>
<circle cx="817.5" cy="1215" r="4.8"/>
<circle cx="822.5" cy="1211.2" r="4.8"/>
<circle cx="827.4" cy="1212.5" r="4.8"/>
<circle cx="832.4" cy="1215" r="4.8"/>
<circle cx="837.4" cy="1216.2" r="4.8"/>
<circle cx="812.5" cy="1222.5" r="4.8"/>
<circle cx="817.5" cy="1222.5" r="4.8"/>
<circle cx="825" cy="1221.2" r="4.8"/>
<circle cx="830" cy="1226.2" r="4.8"/>
<circle cx="815" cy="1232.5" r="4.8"/>
<circle cx="826.2" cy="1235" r="4.8"/>
<circle cx="830" cy="1230" r="4.8"/>
<circle cx="840" cy="1223.7" r="4.8"/>
<circle cx="847.4" cy="1211.2" r="4.8"/>
<circle cx="850" cy="1218.7" r="4.8"/>
<circle cx="852.4" cy="1223.7" r="4.8"/>
<circle cx="848.7" cy="1231.2" r="4.8"/>
<circle cx="850" cy="1237.5" r="4.8"/>
<circle cx="857.4" cy="1217.5" r="4.8"/>
<circle cx="862.4" cy="1221.2" r="4.8"/>
<circle cx="866.2" cy="1215" r="4.8"/>
<circle cx="872.4" cy="1213.7" r="4.8"/>
<circle cx="877.4" cy="1215" r="4.8"/>
<circle cx="881.1" cy="1216.2" r="4.8"/>
<circle cx="877.4" cy="1220" r="4.8"/>
<circle cx="866.2" cy="1235" r="4.8"/>
<circle cx="872.4" cy="1235" r="4.8"/>
<circle cx="878.6" cy="1233.7" r="4.8"/>
<circle cx="883.6" cy="1233.7" r="4.8"/>
<circle cx="887.4" cy="1237.5" r="4.8"/>
<circle cx="893.6" cy="1218.7" r="4.8"/>
<circle cx="898.6" cy="1207.5" r="4.8"/>
<circle cx="898.6" cy="1231.2" r="4.8"/>
<circle cx="897.4" cy="1232.4" r="4.8"/>
<circle cx="803" cy="1224" r="4.8"/>
<circle cx="808" cy="1226" r="4.8"/>
<circle cx="820" cy="1228" r="4.8"/>
<circle cx="836" cy="1228" r="4.8"/>
<circle cx="843" cy="1232" r="4.8"/>
<circle cx="838" cy="1236" r="4.8"/>
<circle cx="822" cy="1236" r="4.8"/>
<circle cx="903.6" cy="1216.2" r="4.8"/>
<circle cx="906.8" cy="1235" r="4.8"/>
<circle cx="909.8" cy="1232.4" r="4.8"/>
<circle cx="917.3" cy="1236.2" r="4.8"/>
<circle cx="916.8" cy="1231.2" r="4.8"/>
<circle cx="923.1" cy="1208" r="4.8"/>
<circle cx="919.8" cy="1218.7" r="4.8"/>
<circle cx="922.3" cy="1223.7" r="4.8"/>
<circle cx="924.8" cy="1222.4" r="4.8"/>
<circle cx="941.8" cy="1217.4" r="4.8"/>
<circle cx="943.6" cy="1230" r="4.8"/>
<circle cx="947.8" cy="1227.4" r="4.8"/>
<circle cx="961.1" cy="1209.5" r="4.8"/>
<circle cx="962.8" cy="1213.7" r="4.8"/>
<circle cx="959.8" cy="1237.4" r="4.8"/>
<circle cx="966.8" cy="1234.4" r="4.8"/>
<circle cx="988.5" cy="1216.2" r="4.8"/>
<circle cx="1025.4" cy="1226.3" r="4.8"/>
<circle cx="1029.8" cy="1220.1" r="4.8"/>
<circle cx="1048.4" cy="1224.7" r="4.8"/>
<circle cx="1078.7" cy="1226.9" r="4.8"/>
<circle cx="1115.9" cy="1228.7" r="4.8"/>
<circle cx="1177.1" cy="1213.1" r="4.8"/>
<circle cx="1221.6" cy="1210" r="4.8"/>
<circle cx="1221.6" cy="1217.3" r="4.8"/>
</g>
<g fill="rgb(236,120,56)">
<circle cx="754.5" cy="1348.6" r="4.8"/>
<circle cx="796.9" cy="1339.9" r="4.8"/>
<circle cx="808.7" cy="1352.3" r="4.8"/>
<circle cx="808.7" cy="1357.3" r="4.8"/>
<circle cx="818.2" cy="1349.8" r="4.8"/>
<circle cx="836.9" cy="1355.3" r="4.8"/>
<circle cx="840.4" cy="1353.1" r="4.8"/>
<circle cx="854.4" cy="1342.3" r="4.8"/>
<circle cx="860.4" cy="1334.3" r="4.8"/>
<circle cx="880.6" cy="1362.3" r="4.8"/>
<circle cx="919.8" cy="1346.1" r="4.8"/>
<circle cx="926.1" cy="1336.1" r="4.8"/>
<circle cx="931.8" cy="1334.9" r="4.8"/>
<circle cx="988" cy="1336.1" r="4.8"/>
<circle cx="999.3" cy="1340.6" r="4.8"/>
<circle cx="1007" cy="1360.2" r="4.8"/>
<circle cx="1016.2" cy="1349.7" r="4.8"/>
<circle cx="1089.7" cy="1354.7" r="4.8"/>
<circle cx="1077.8" cy="1362.9" r="4.8"/>
<circle cx="1221.6" cy="1333.5" r="4.8"/>
<circle cx="1220.7" cy="1354.7" r="4.8"/>
</g>
<rect x="795.7" y="1163" width="100.4" height="121.4" fill="rgb(47,98,142)" fill-opacity="0.6"/>
<rect x="836.9" y="1287.4" width="169.7" height="121.2" fill="rgb(203,113,50)" fill-opacity="0.6"/>
<rect x="795.7" y="1163" width="100.4" height="121.4" fill="none" stroke="rgb(60,60,60)" stroke-opacity="0.52" stroke-width="2.5"/>
<rect x="836.9" y="1287.4" width="169.7" height="121.2" fill="none" stroke="rgb(60,60,60)" stroke-opacity="0.52" stroke-width="2.5"/>
<path d="M859.5 1192L866.8 1203L859.5 1214L852.2 1203Z" fill="rgb(48,110,168)"/>
<path d="M936.1 1356.3L943.4 1367.3L936.1 1378.3L928.8 1367.3Z" fill="rgb(238,125,58)"/>
<line x1="842.4" y1="1163" x2="842.4" y2="1284.4" stroke="rgb(55,55,55)" stroke-opacity="0.7" stroke-width="2.6"/>
<line x1="920.3" y1="1287.4" x2="920.3" y2="1408.6" stroke="rgb(55,55,55)" stroke-opacity="0.7" stroke-width="2.6"/>
<g stroke="rgb(55,55,55)" stroke-opacity="0.72" stroke-width="2.3">
<line x1="752" y1="1222.8" x2="795.7" y2="1222.8"/>
<line x1="896.1" y1="1222.8" x2="1221.6" y2="1222.8"/>
<line x1="752" y1="1193.2" x2="752" y2="1254.5"/>
<line x1="1221.6" y1="1193.2" x2="1221.6" y2="1254.5"/>
</g>
<g stroke="rgb(55,55,55)" stroke-opacity="0.88" stroke-width="2.3">
<line x1="754.5" y1="1347.3" x2="836.9" y2="1347.3"/>
<line x1="1006.6" y1="1347.3" x2="1221.6" y2="1347.3"/>
<line x1="754.5" y1="1317" x2="754.5" y2="1378.2"/>
<line x1="1221.6" y1="1317" x2="1221.6" y2="1378.2"/>
</g>
<line x1="681.7" y1="1440.8" x2="1283.8" y2="1440.8" stroke="#000" stroke-width="2.6"/>
<line x1="756.96" y1="1432.6" x2="756.96" y2="1444.7" stroke="#222" stroke-width="1.7"/>
<line x1="832.23" y1="1432.6" x2="832.23" y2="1444.7" stroke="#222" stroke-width="1.7"/>
<line x1="907.49" y1="1432.6" x2="907.49" y2="1444.7" stroke="#222" stroke-width="1.7"/>
<line x1="982.75" y1="1432.6" x2="982.75" y2="1444.7" stroke="#222" stroke-width="1.7"/>
<line x1="1058.01" y1="1432.6" x2="1058.01" y2="1444.7" stroke="#222" stroke-width="1.7"/>
<line x1="1133.28" y1="1432.6" x2="1133.28" y2="1444.7" stroke="#222" stroke-width="1.7"/>
<line x1="1208.54" y1="1432.6" x2="1208.54" y2="1444.7" stroke="#222" stroke-width="1.7"/>
<line x1="681.7" y1="1433.8" x2="681.7" y2="1446.8" stroke="#000" stroke-width="3"/>
<line x1="1283.8" y1="1433.8" x2="1283.8" y2="1446.8" stroke="#000" stroke-width="3"/>
<g fill="#000">
<text x="115" y="69" textLength="467.2" lengthAdjust="spacingAndGlyphs" style="font-family:'Liberation Sans', sans-serif;font-size:35.5px;font-weight:700;font-style:normal" xml:space="preserve">Study 1 Group Comparisons</text>
<text x="977.2" y="23" textLength="36.8" lengthAdjust="spacingAndGlyphs" style="font-family:'Liberation Sans', sans-serif;font-size:28.8px;font-weight:400;font-style:normal" xml:space="preserve">NT</text>
<text x="969.2" y="75.9" textLength="56" lengthAdjust="spacingAndGlyphs" style="font-family:'Liberation Sans', sans-serif;font-size:28.8px;font-weight:400;font-style:normal" xml:space="preserve">ASD</text>
<text x="97" y="180.75" textLength="309" lengthAdjust="spacingAndGlyphs" style="font-family:'Liberation Sans', sans-serif;font-size:32.5px;font-weight:400;font-style:normal" xml:space="preserve">(a) Number of touches</text>
<text x="746.4" y="191.5" textLength="417" lengthAdjust="spacingAndGlyphs" style="font-family:'Liberation Sans', sans-serif;font-size:32.5px;font-weight:400;font-style:normal" xml:space="preserve">(b) Average touch duration  [s]</text>
<text x="62" y="655.8" textLength="482" lengthAdjust="spacingAndGlyphs" style="font-family:'Liberation Sans', sans-serif;font-size:32.5px;font-weight:400;font-style:normal" xml:space="preserve">(c) Median dist. to the center  [mm]</text>
<text x="775.6" y="647.1" textLength="416.6" lengthAdjust="spacingAndGlyphs" style="font-family:'Liberation Sans', sans-serif;font-size:32.5px;font-weight:400;font-style:normal" xml:space="preserve">(d) Average touch length [mm]</text>
<text x="112.4" y="1122.6" textLength="392.6" lengthAdjust="spacingAndGlyphs" style="font-family:'Liberation Sans', sans-serif;font-size:32.5px;font-weight:400;font-style:normal" xml:space="preserve">(e) Std. of touch length [mm]</text>
<text x="747.6" y="1123.6" textLength="477.6" lengthAdjust="spacingAndGlyphs" style="font-family:'Liberation Sans', sans-serif;font-size:32.5px;font-weight:400;font-style:normal" xml:space="preserve">(f) Average time spent on target [s]</text>
<text x="410.2" y="232" textLength="77.8" lengthAdjust="spacingAndGlyphs" style="font-family:'Liberation Sans', sans-serif;font-size:28.8px;font-weight:400;font-style:italic" xml:space="preserve">P=.11,</text>
<text x="500.6" y="232" textLength="15.6" lengthAdjust="spacingAndGlyphs" style="font-family:'Liberation Serif', serif;font-size:28px;font-weight:400;font-style:italic" xml:space="preserve">η</text>
<text x="516.6" y="220.9" textLength="12.6" lengthAdjust="spacingAndGlyphs" style="font-family:'Liberation Serif', serif;font-size:21.5px;font-weight:400;font-style:normal" xml:space="preserve">2</text>
<text x="528" y="232" textLength="71.8" lengthAdjust="spacingAndGlyphs" style="font-family:'Liberation Sans', sans-serif;font-size:28.8px;font-weight:400;font-style:italic" xml:space="preserve">=0.03</text>
<text x="1020.6" y="241.4" textLength="122.6" lengthAdjust="spacingAndGlyphs" style="font-family:'Liberation Sans', sans-serif;font-size:28.8px;font-weight:400;font-style:italic" xml:space="preserve">P=1.8e-3,</text>
<text x="1153.4" y="241.4" textLength="16.6" lengthAdjust="spacingAndGlyphs" style="font-family:'Liberation Serif', serif;font-size:28px;font-weight:400;font-style:italic" xml:space="preserve">η</text>
<text x="1169.6" y="230.3" textLength="11.4" lengthAdjust="spacingAndGlyphs" style="font-family:'Liberation Serif', serif;font-size:21.5px;font-weight:400;font-style:normal" xml:space="preserve">2</text>
<text x="1180.6" y="241.4" textLength="71.6" lengthAdjust="spacingAndGlyphs" style="font-family:'Liberation Sans', sans-serif;font-size:28.8px;font-weight:400;font-style:italic" xml:space="preserve">=0.07</text>
<text x="377" y="707.6" textLength="122" lengthAdjust="spacingAndGlyphs" style="font-family:'Liberation Sans', sans-serif;font-size:28.8px;font-weight:400;font-style:italic" xml:space="preserve">P=1.7e-4,</text>
<text x="509.6" y="707.6" textLength="17.4" lengthAdjust="spacingAndGlyphs" style="font-family:'Liberation Serif', serif;font-size:28px;font-weight:400;font-style:italic" xml:space="preserve">η</text>
<text x="527" y="696.5" textLength="10.8" lengthAdjust="spacingAndGlyphs" style="font-family:'Liberation Serif', serif;font-size:21.5px;font-weight:400;font-style:normal" xml:space="preserve">2</text>
<text x="538" y="707.6" textLength="72" lengthAdjust="spacingAndGlyphs" style="font-family:'Liberation Sans', sans-serif;font-size:28.8px;font-weight:400;font-style:italic" xml:space="preserve">=0.12</text>
<text x="1040.4" y="698.5" textLength="120.2" lengthAdjust="spacingAndGlyphs" style="font-family:'Liberation Sans', sans-serif;font-size:28.8px;font-weight:400;font-style:italic" xml:space="preserve">P=5.5e-5,</text>
<text x="1173" y="698.5" textLength="17" lengthAdjust="spacingAndGlyphs" style="font-family:'Liberation Serif', serif;font-size:28px;font-weight:400;font-style:italic" xml:space="preserve">η</text>
<text x="1190" y="687.4" textLength="11" lengthAdjust="spacingAndGlyphs" style="font-family:'Liberation Serif', serif;font-size:21.5px;font-weight:400;font-style:normal" xml:space="preserve">2</text>
<text x="1200" y="698.5" textLength="71.6" lengthAdjust="spacingAndGlyphs" style="font-family:'Liberation Sans', sans-serif;font-size:28.8px;font-weight:400;font-style:italic" xml:space="preserve">=0.14</text>
<text x="366.6" y="1173.5" textLength="99.2" lengthAdjust="spacingAndGlyphs" style="font-family:'Liberation Sans', sans-serif;font-size:28.8px;font-weight:400;font-style:italic" xml:space="preserve">P=2e-6,</text>
<text x="476.4" y="1173.5" textLength="17.4" lengthAdjust="spacingAndGlyphs" style="font-family:'Liberation Serif', serif;font-size:28px;font-weight:400;font-style:italic" xml:space="preserve">η</text>
<text x="492.4" y="1162.4" textLength="11.8" lengthAdjust="spacingAndGlyphs" style="font-family:'Liberation Serif', serif;font-size:21.5px;font-weight:400;font-style:normal" xml:space="preserve">2</text>
<text x="503.6" y="1173.5" textLength="71.4" lengthAdjust="spacingAndGlyphs" style="font-family:'Liberation Sans', sans-serif;font-size:28.8px;font-weight:400;font-style:italic" xml:space="preserve">=0.18</text>
<text x="1055.6" y="1174" textLength="119.6" lengthAdjust="spacingAndGlyphs" style="font-family:'Liberation Sans', sans-serif;font-size:28.8px;font-weight:400;font-style:italic" xml:space="preserve">P=4.6e-4,</text>
<text x="1187.6" y="1174" textLength="15.8" lengthAdjust="spacingAndGlyphs" style="font-family:'Liberation Serif', serif;font-size:28px;font-weight:400;font-style:italic" xml:space="preserve">η</text>
<text x="1204" y="1162.9" textLength="10.2" lengthAdjust="spacingAndGlyphs" style="font-family:'Liberation Serif', serif;font-size:21.5px;font-weight:400;font-style:normal" xml:space="preserve">2</text>
<text x="1214.6" y="1174" textLength="68.6" lengthAdjust="spacingAndGlyphs" style="font-family:'Liberation Sans', sans-serif;font-size:28.8px;font-weight:400;font-style:italic" xml:space="preserve">=0.11</text>
<text x="0.8" y="549.8" textLength="14" lengthAdjust="spacingAndGlyphs" style="font-family:'Liberation Sans', sans-serif;font-size:28.8px;font-weight:400;font-style:normal" xml:space="preserve">0</text>
<text x="142" y="549.8" textLength="31" lengthAdjust="spacingAndGlyphs" style="font-family:'Liberation Sans', sans-serif;font-size:28.8px;font-weight:400;font-style:normal" xml:space="preserve">10</text>
<text x="292.8" y="549.8" textLength="32.2" lengthAdjust="spacingAndGlyphs" style="font-family:'Liberation Sans', sans-serif;font-size:28.8px;font-weight:400;font-style:normal" xml:space="preserve">20</text>
<text x="443.4" y="549.8" textLength="31.6" lengthAdjust="spacingAndGlyphs" style="font-family:'Liberation Sans', sans-serif;font-size:28.8px;font-weight:400;font-style:normal" xml:space="preserve">30</text>
<text x="594.8" y="549.8" textLength="32" lengthAdjust="spacingAndGlyphs" style="font-family:'Liberation Sans', sans-serif;font-size:28.8px;font-weight:400;font-style:normal" xml:space="preserve">40</text>
<text x="664.8" y="550.5" textLength="16.2" lengthAdjust="spacingAndGlyphs" style="font-family:'Liberation Sans', sans-serif;font-size:28.8px;font-weight:400;font-style:normal" xml:space="preserve">0</text>
<text x="810" y="550.5" textLength="40.8" lengthAdjust="spacingAndGlyphs" style="font-family:'Liberation Sans', sans-serif;font-size:28.8px;font-weight:400;font-style:normal" xml:space="preserve">.25</text>
<text x="974" y="550.5" textLength="23.8" lengthAdjust="spacingAndGlyphs" style="font-family:'Liberation Sans', sans-serif;font-size:28.8px;font-weight:400;font-style:normal" xml:space="preserve">.5</text>
<text x="1114" y="550.5" textLength="39.4" lengthAdjust="spacingAndGlyphs" style="font-family:'Liberation Sans', sans-serif;font-size:28.8px;font-weight:400;font-style:normal" xml:space="preserve">.75</text>
<text x="1293" y="550.5" textLength="9.2" lengthAdjust="spacingAndGlyphs" style="font-family:'Liberation Sans', sans-serif;font-size:28.8px;font-weight:400;font-style:normal" xml:space="preserve">1</text>
<text x="9.8" y="1017" textLength="16.2" lengthAdjust="spacingAndGlyphs" style="font-family:'Liberation Sans', sans-serif;font-size:28.8px;font-weight:400;font-style:normal" xml:space="preserve">0</text>
<text x="284" y="1017" textLength="55" lengthAdjust="spacingAndGlyphs" style="font-family:'Liberation Sans', sans-serif;font-size:28.8px;font-weight:400;font-style:normal" xml:space="preserve">17.5</text>
<text x="589.2" y="1017" textLength="32.6" lengthAdjust="spacingAndGlyphs" style="font-family:'Liberation Sans', sans-serif;font-size:28.8px;font-weight:400;font-style:normal" xml:space="preserve">35</text>
<text x="677" y="1016.2" textLength="14.8" lengthAdjust="spacingAndGlyphs" style="font-family:'Liberation Sans', sans-serif;font-size:28.8px;font-weight:400;font-style:normal" xml:space="preserve">0</text>
<text x="820" y="1016.2" textLength="30" lengthAdjust="spacingAndGlyphs" style="font-family:'Liberation Sans', sans-serif;font-size:28.8px;font-weight:400;font-style:normal" xml:space="preserve">10</text>
<text x="971" y="1016.2" textLength="31" lengthAdjust="spacingAndGlyphs" style="font-family:'Liberation Sans', sans-serif;font-size:28.8px;font-weight:400;font-style:normal" xml:space="preserve">20</text>
<text x="1120.6" y="1016.2" textLength="32" lengthAdjust="spacingAndGlyphs" style="font-family:'Liberation Sans', sans-serif;font-size:28.8px;font-weight:400;font-style:normal" xml:space="preserve">30</text>
<text x="1272.2" y="1016.2" textLength="30" lengthAdjust="spacingAndGlyphs" style="font-family:'Liberation Sans', sans-serif;font-size:28.8px;font-weight:400;font-style:normal" xml:space="preserve">40</text>
<text x="158.2" y="1482.8" textLength="31.8" lengthAdjust="spacingAndGlyphs" style="font-family:'Liberation Sans', sans-serif;font-size:28.8px;font-weight:400;font-style:normal" xml:space="preserve">10</text>
<text x="305" y="1482.8" textLength="31.6" lengthAdjust="spacingAndGlyphs" style="font-family:'Liberation Sans', sans-serif;font-size:28.8px;font-weight:400;font-style:normal" xml:space="preserve">20</text>
<text x="451.4" y="1482.8" textLength="31.6" lengthAdjust="spacingAndGlyphs" style="font-family:'Liberation Sans', sans-serif;font-size:28.8px;font-weight:400;font-style:normal" xml:space="preserve">30</text>
<text x="599.4" y="1482.8" textLength="31.4" lengthAdjust="spacingAndGlyphs" style="font-family:'Liberation Sans', sans-serif;font-size:28.8px;font-weight:400;font-style:normal" xml:space="preserve">40</text>
<text x="672" y="1482.8" textLength="17" lengthAdjust="spacingAndGlyphs" style="font-family:'Liberation Sans', sans-serif;font-size:28.8px;font-weight:400;font-style:normal" xml:space="preserve">0</text>
<text x="812.6" y="1482.8" textLength="39.8" lengthAdjust="spacingAndGlyphs" style="font-family:'Liberation Sans', sans-serif;font-size:28.8px;font-weight:400;font-style:normal" xml:space="preserve">.75</text>
<text x="964" y="1482.8" textLength="39" lengthAdjust="spacingAndGlyphs" style="font-family:'Liberation Sans', sans-serif;font-size:28.8px;font-weight:400;font-style:normal" xml:space="preserve">1.5</text>
<text x="1106.8" y="1482.8" textLength="53.8" lengthAdjust="spacingAndGlyphs" style="font-family:'Liberation Sans', sans-serif;font-size:28.8px;font-weight:400;font-style:normal" xml:space="preserve">2.25</text>
<text x="1266.2" y="1482.8" textLength="38.2" lengthAdjust="spacingAndGlyphs" style="font-family:'Liberation Sans', sans-serif;font-size:28.8px;font-weight:400;font-style:normal" xml:space="preserve">3.0</text>
<text x="18" y="1463.7" textLength="16.8" lengthAdjust="spacingAndGlyphs" style="font-family:'Liberation Sans', sans-serif;font-size:28.8px;font-weight:400;font-style:normal" xml:space="preserve">0</text>
</g>
</svg>
</body></html>
